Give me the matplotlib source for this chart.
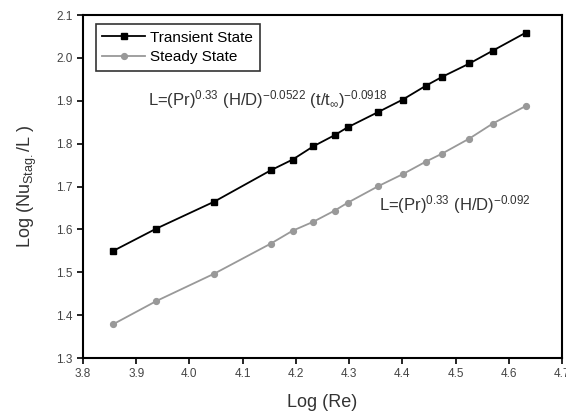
import numpy as np
import matplotlib
matplotlib.use("Agg")
import matplotlib.pyplot as plt

plt.rcParams['font.family'] = ['Liberation Sans', 'DejaVu Sans']
plt.rcParams['mathtext.fontset'] = 'custom'
plt.rcParams['mathtext.rm'] = 'Liberation Sans'
plt.rcParams['mathtext.it'] = 'Liberation Sans'
plt.rcParams['mathtext.fallback'] = 'stixsans'

# data
log_re = [3.857, 3.938, 4.047, 4.153, 4.194, 4.233, 4.273, 4.297,
          4.355, 4.401, 4.444, 4.475, 4.526, 4.570, 4.632]
transient = [1.550, 1.602, 1.665, 1.738, 1.763, 1.794, 1.820, 1.838,
             1.874, 1.903, 1.935, 1.956, 1.987, 2.017, 2.059]
steady = [1.379, 1.433, 1.497, 1.567, 1.597, 1.618, 1.644, 1.662,
          1.701, 1.729, 1.758, 1.777, 1.812, 1.847, 1.888]

xticks = [3.8, 3.9, 4.0, 4.1, 4.2, 4.3, 4.4, 4.5, 4.6, 4.7]
yticks = [1.3, 1.4, 1.5, 1.6, 1.7, 1.8, 1.9, 2.0, 2.1]

fig = plt.figure(figsize=(5.66, 4.18), dpi=100)
ax = fig.add_axes([0.1466, 0.1435, 0.8464, 0.8205])

ax.plot(log_re, transient, color='black', lw=1.3, marker='s', ms=4.6,
        label='Transient State')
ax.plot(log_re, steady, color='#999999', lw=1.3, marker='o', ms=4.2,
        label='Steady State')

ax.set_xlim(3.8, 4.7)
ax.set_ylim(1.3, 2.1)
ax.set_xticks(xticks)
ax.set_yticks(yticks)
ax.set_xticklabels(['%.1f' % v for v in xticks])
ax.set_yticklabels(['%.1f' % v for v in yticks])
ax.tick_params(direction='out', length=4, width=1.2, labelsize=8.5,
               labelcolor='#444444', top=False, right=False)
for s in ax.spines.values():
    s.set_linewidth(1.5)

ax.set_xlabel('Log (Re)', fontsize=13, color='#333333', labelpad=10)
ax.set_ylabel(r'Log (Nu$_{\mathrm{Stag.}}$/L )', fontsize=13, color='#333333',
              labelpad=12)

ax.text(3.922, 1.902, r'L=(Pr)$^{0.33}$ (H/D)$^{-0.0522}$ (t/t$_{\infty}$)$^{-0.0918}$',
        fontsize=12, color='#333333', va='center', ha='left')
ax.text(4.356, 1.657, r'L=(Pr)$^{0.33}$ (H/D)$^{-0.092}$',
        fontsize=12, color='#333333', va='center', ha='left')

leg = ax.legend(loc='upper left', bbox_to_anchor=(0.02, 0.983), fontsize=11,
                frameon=True, fancybox=False, edgecolor='black',
                handlelength=2.8, borderpad=0.45, labelspacing=0.35,
                handletextpad=0.3, borderaxespad=0.2)
leg.get_frame().set_linewidth(1.2)

fig.savefig('out.png', dpi=100)
